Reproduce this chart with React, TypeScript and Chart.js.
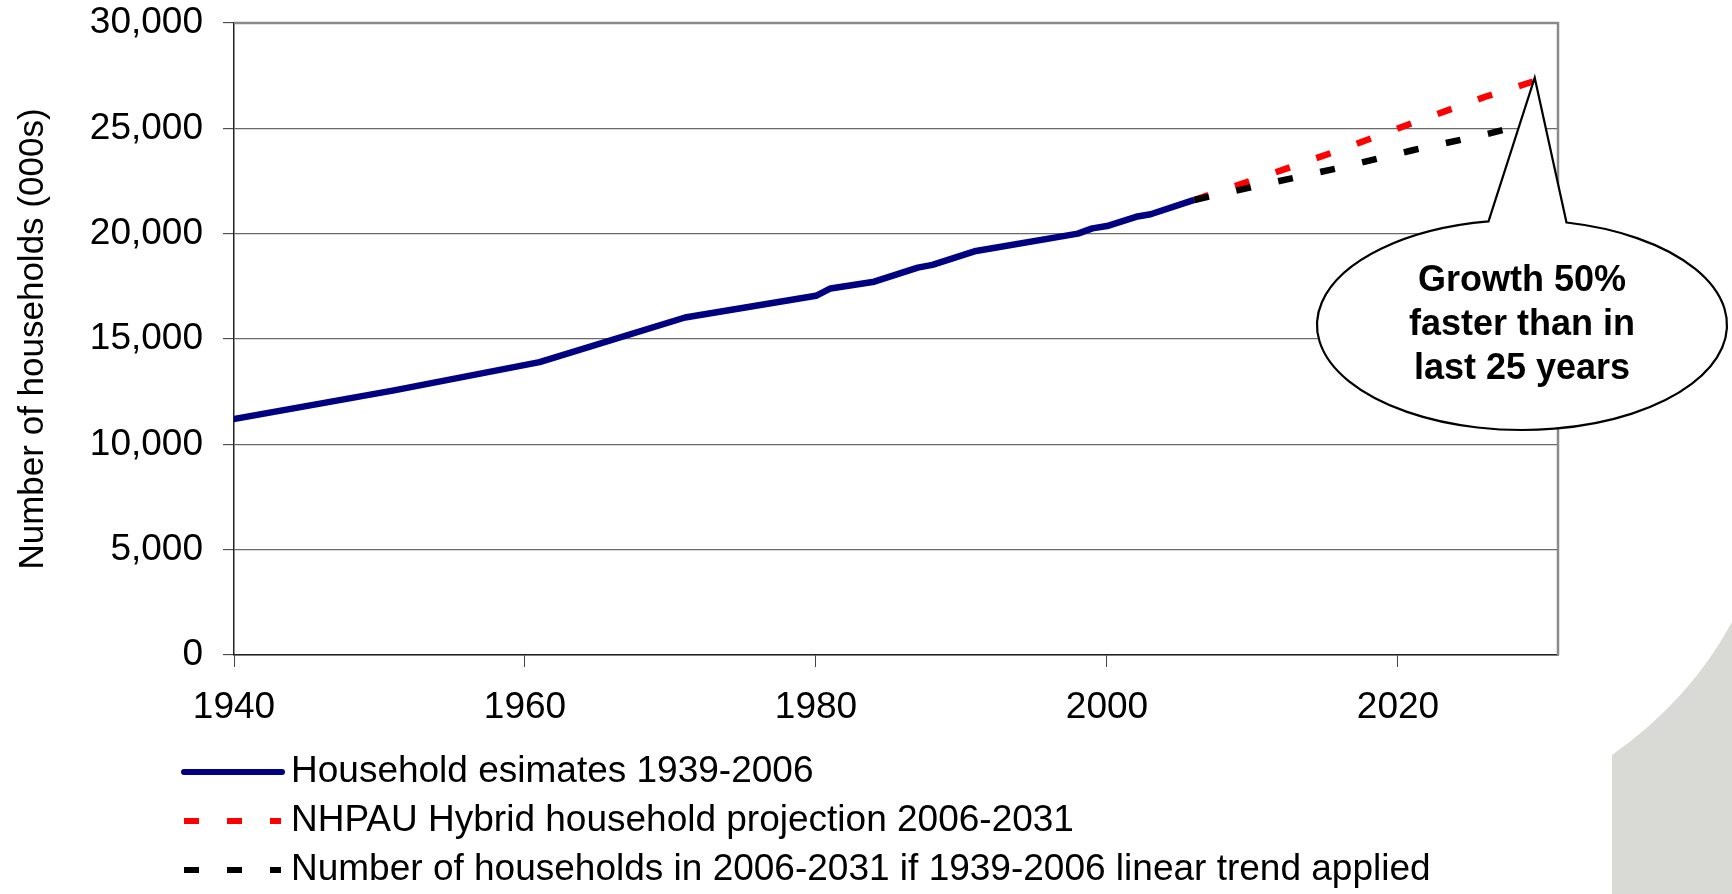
import React, { useEffect, useRef } from 'react';
import { Chart, registerables } from 'chart.js';

Chart.register(...registerables);

// ---------- data ----------
const estimateYears = [1939, 1951, 1961, 1971, 1980, 1981, 1984, 1987, 1988, 1991, 1998, 1999, 2000, 2002, 2003, 2006];
const estimateValues = [11080, 12560, 13900, 16020, 17050, 17400, 17720, 18390, 18520, 19180, 20000, 20250, 20360, 20800, 20920, 21600];

const projectionYears = [2006, 2011, 2016, 2021, 2026, 2031];
const hybridValues = [21600, 22770, 23970, 25255, 26500, 27600];
const trendValues = [21600, 22370, 23130, 23960, 24710, 25560];

const xTickValues = [1940, 1960, 1980, 2000, 2020];
const yTickValues = [0, 5000, 10000, 15000, 20000, 25000, 30000];

const seriesLabels = [
  'Household esimates 1939-2006',
  'NHPAU Hybrid household projection 2006-2031',
  'Number of households in 2006-2031 if 1939-2006 linear trend applied',
];
const seriesColors = ['#000080', '#ff0000', '#000000'];
const yAxisTitle = 'Number of households (000s)';
const calloutLines = ['Growth 50%', 'faster than in', 'last 25 years'];
const calloutTip = { x: 2029.4, y: 27400 };

const W = 1732;
const H = 894;
const FONT = "'Liberation Sans', Arial, sans-serif";
const DASH = [15, 28];

const decorPlugin = {
  id: 'decor',
  beforeDraw(chart: any) {
    const ctx = chart.ctx;
    ctx.save();
    ctx.fillStyle = '#ffffff';
    ctx.fillRect(0, 0, W, H);
    // light grey slide decoration bottom-right
    ctx.fillStyle = '#d9dad5';
    ctx.beginPath();
    ctx.moveTo(1612, H);
    ctx.lineTo(1612, 755);
    ctx.quadraticCurveTo(1690, 700, W, 622);
    ctx.lineTo(W, H);
    ctx.closePath();
    ctx.fill();
    ctx.restore();
  },
  afterDraw(chart: any) {
    const ctx = chart.ctx;
    const area = chart.chartArea;
    ctx.save();
    // plot area top/right border
    ctx.strokeStyle = '#8a8a8a';
    ctx.lineWidth = 2.5;
    ctx.beginPath();
    ctx.moveTo(area.left, area.top);
    ctx.lineTo(area.right, area.top);
    ctx.lineTo(area.right, area.bottom);
    ctx.stroke();

    // legend
    const rowsY = [772, 821, 870];
    for (let i = 0; i < 3; i++) {
      ctx.save();
      ctx.strokeStyle = seriesColors[i];
      ctx.lineWidth = 6;
      if (i === 0) {
        ctx.lineCap = 'round';
        ctx.setLineDash([]);
        ctx.beginPath();
        ctx.moveTo(184, rowsY[i]);
        ctx.lineTo(282, rowsY[i]);
        ctx.stroke();
      } else {
        ctx.lineCap = 'butt';
        ctx.setLineDash(DASH);
        ctx.beginPath();
        ctx.moveTo(184, rowsY[i]);
        ctx.lineTo(281, rowsY[i]);
        ctx.stroke();
      }
      ctx.restore();
      ctx.fillStyle = '#000';
      ctx.font = `37px ${FONT}`;
      ctx.textAlign = 'left';
      ctx.textBaseline = 'middle';
      ctx.fillText(seriesLabels[i], 291, rowsY[i]);
    }

    // callout
    const tipX = chart.scales.x.getPixelForValue(calloutTip.x);
    const tipY = chart.scales.y.getPixelForValue(calloutTip.y);
    const cx = 1522, cy = 325, rx = 205, ry = 105;
    const tL = -Math.acos((1488.5 - cx) / rx);
    const tR = -Math.acos((1566.5 - cx) / rx);
    ctx.beginPath();
    ctx.moveTo(tipX, tipY);
    ctx.lineTo(cx + rx * Math.cos(tR), cy + ry * Math.sin(tR));
    ctx.ellipse(cx, cy, rx, ry, 0, tR, tL + Math.PI * 2, false);
    ctx.closePath();
    ctx.fillStyle = '#ffffff';
    ctx.fill();
    ctx.strokeStyle = '#000';
    ctx.lineWidth = 2.2;
    ctx.lineJoin = 'miter';
    ctx.setLineDash([]);
    ctx.stroke();
    ctx.fillStyle = '#000';
    ctx.font = `bold 36px ${FONT}`;
    ctx.textAlign = 'center';
    ctx.textBaseline = 'middle';
    const ly = [281, 325, 369];
    calloutLines.forEach((t, i) => ctx.fillText(t, cx, ly[i]));
    ctx.restore();
  },
};

export default function App() {
  const ref = useRef<HTMLCanvasElement>(null);
  useEffect(() => {
    if (!ref.current) return;
    const chart = new Chart(ref.current, {
      type: 'line',
      data: {
        datasets: [
          {
            label: seriesLabels[0],
            data: estimateYears.map((x, i) => ({ x, y: estimateValues[i] })),
            borderColor: seriesColors[0],
            borderWidth: 6.5,
            borderJoinStyle: 'round',
            borderCapStyle: 'butt',
            pointRadius: 0,
            fill: false,
            tension: 0,
            clip: 0,
            order: 2,
          },
          {
            label: seriesLabels[1],
            data: projectionYears.map((x, i) => ({ x, y: hybridValues[i] })),
            borderColor: seriesColors[1],
            borderWidth: 6.5,
            borderDash: DASH,
            borderCapStyle: 'butt',
            pointRadius: 0,
            fill: false,
            tension: 0,
            order: 1,
          },
          {
            label: seriesLabels[2],
            data: projectionYears.map((x, i) => ({ x, y: trendValues[i] })),
            borderColor: seriesColors[2],
            borderWidth: 6.5,
            borderDash: DASH,
            borderCapStyle: 'butt',
            pointRadius: 0,
            fill: false,
            tension: 0,
            order: 0,
          },
        ],
      } as any,
      options: {
        responsive: false,
        animation: false,
        devicePixelRatio: 1,
        events: [],
        layout: { padding: { left: 0, top: 23, right: 174, bottom: 0 } },
        plugins: { legend: { display: false }, tooltip: { enabled: false } },
        scales: {
          x: {
            type: 'linear',
            min: 1940,
            max: 2031,
            afterBuildTicks: (s: any) => {
              s.ticks = xTickValues.map((v) => ({ value: v }));
            },
            afterFit: (s: any) => {
              s.height = 239;
              s.paddingLeft = 0;
              s.paddingRight = 0;
            },
            grid: { drawOnChartArea: false, drawTicks: true, tickLength: 12, tickColor: '#444', tickWidth: 1 },
            border: { display: true, color: '#222', width: 1.5 },
            ticks: {
              color: '#000',
              font: { family: FONT, size: 37 },
              padding: 19,
              maxRotation: 0,
              autoSkip: false,
              callback: (v: any) => String(v),
            },
          },
          y: {
            type: 'linear',
            min: 0,
            max: 30000,
            afterBuildTicks: (s: any) => {
              s.ticks = yTickValues.map((v) => ({ value: v }));
            },
            afterFit: (s: any) => {
              s.width = 234;
              s.paddingTop = 0;
              s.paddingBottom = 0;
            },
            grid: { color: '#6a6a6a', lineWidth: 1.3, tickLength: 11, tickColor: '#333', tickWidth: 1 },
            border: { display: true, color: '#222', width: 1.5 },
            ticks: {
              color: '#000',
              font: { family: FONT, size: 37 },
              padding: 20,
              autoSkip: false,
              callback: (v: any) => Number(v).toLocaleString('en-US'),
            },
            title: {
              display: true,
              text: yAxisTitle,
              color: '#000',
              font: { family: FONT, size: 35 },
              padding: { top: 12, bottom: 0 },
            },
          },
        },
      } as any,
      plugins: [decorPlugin],
    });
    return () => chart.destroy();
  }, []);
  return (
    <div style={{ position: 'fixed', left: 0, top: 0, width: W, height: H, background: '#fff' }}>
      <canvas ref={ref} width={W} height={H} style={{ width: W, height: H, display: 'block' }} />
    </div>
  );
}
